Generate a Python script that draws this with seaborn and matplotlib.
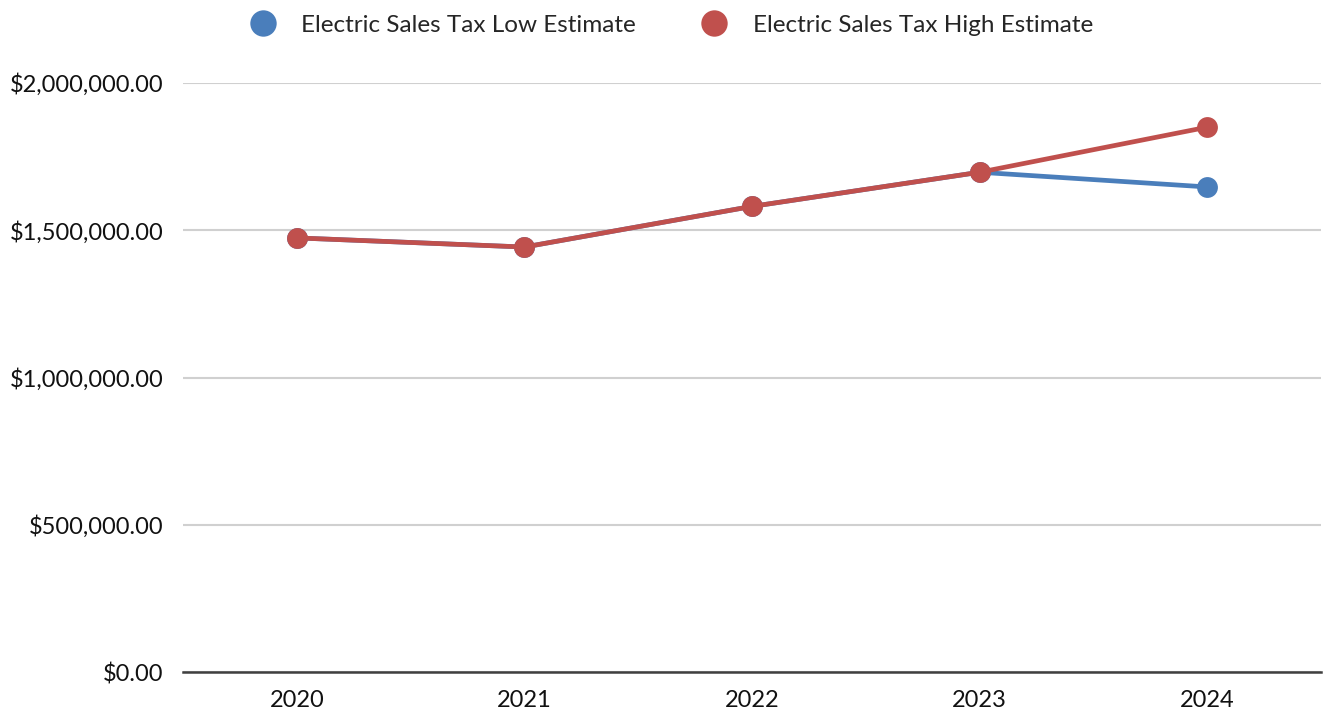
import matplotlib
matplotlib.use("Agg")
import matplotlib.pyplot as plt
import matplotlib.ticker as mticker
import seaborn as sns
import pandas as pd

years = ["2020", "2021", "2022", "2023", "2024"]
low_estimate = [1474000, 1443000, 1581000, 1697000, 1647000]
high_estimate = [1474000, 1443000, 1581000, 1697000, 1850000]
series_names = ["Electric Sales Tax Low Estimate", "Electric Sales Tax High Estimate"]
colors = ["#4A7EBB", "#C0504D"]

df = pd.DataFrame({
    "Year": years * 2,
    "Value": low_estimate + high_estimate,
    "Series": [series_names[0]] * len(years) + [series_names[1]] * len(years),
})

sns.set_theme(style="white")
plt.rcParams["font.family"] = ["Lato", "DejaVu Sans"]

fig = plt.figure(figsize=(13.26, 7.17), dpi=100)
ax = fig.add_axes([183 / 1326, 1 - 672 / 717, (1321 - 183) / 1326, (672 - 83) / 717])

sns.lineplot(
    data=df, x="Year", y="Value", hue="Series", palette=colors,
    marker="o", markersize=15, markeredgewidth=0, linewidth=3.4,
    sort=False, ax=ax, legend=False,
)

ax.set_xlim(-0.5, 4.5)
ax.set_ylim(0, 2000000)
ax.set_yticks([0, 500000, 1000000, 1500000, 2000000])
ax.yaxis.set_major_formatter(mticker.FuncFormatter(lambda v, p: f"${v:,.2f}"))
ax.grid(axis="y", color="#d0d0d0", linewidth=1.5)
ax.set_axisbelow(True)
for side in ["top", "right", "left"]:
    ax.spines[side].set_visible(False)
ax.spines["bottom"].set_color("#404040")
ax.spines["bottom"].set_linewidth(1.8)
ax.tick_params(axis="both", length=0, labelsize=17, colors="#111111")
ax.tick_params(axis="x", pad=13)
ax.tick_params(axis="y", pad=14)
ax.set_xlabel("")
ax.set_ylabel("")

handles = [
    plt.Line2D([], [], linestyle="none", marker="o", markersize=19, color=c, markeredgewidth=0)
    for c in colors
]
fig.legend(handles, series_names, loc="center", bbox_to_anchor=(0.502, 1 - 25 / 717),
           ncol=2, frameon=False, fontsize=17.5, handletextpad=0.6, columnspacing=2.2)

fig.savefig("out.png", dpi=100)
